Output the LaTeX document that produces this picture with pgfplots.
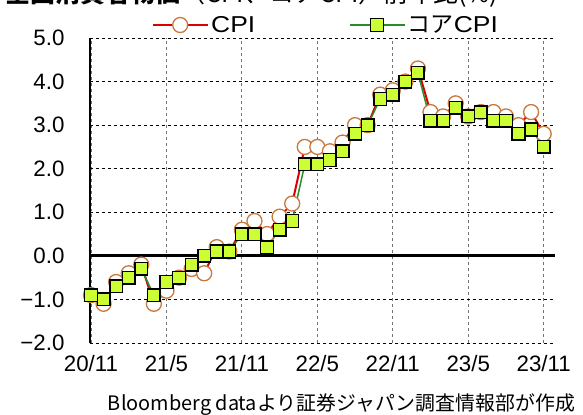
\documentclass[border=0pt]{standalone}
\usepackage{graphicx}
\usepackage{pgfplots}
\pgfplotsset{compat=1.18}
\usepackage{fontspec}
\setmainfont{Liberation Sans}
\newfontfamily\jp{Noto Sans CJK JP}
\newfontfamily\legf[FakeStretch=1.15]{Liberation Sans}
\definecolor{cpired}{RGB}{220,0,0}
\definecolor{cpicirc}{RGB}{200,120,60}
\definecolor{coregreen}{RGB}{40,140,40}
\definecolor{corefill}{RGB}{204,255,51}
\pgfplotstableread{
x cpi core
0 -0.9 -0.9
1 -1.1 -1.0
2 -0.6 -0.7
3 -0.4 -0.5
4 -0.2 -0.3
5 -1.1 -0.9
6 -0.8 -0.6
7 -0.5 -0.5
8 -0.3 -0.2
9 -0.4 0.0
10 0.2 0.1
11 0.1 0.1
12 0.6 0.5
13 0.8 0.5
14 0.5 0.2
15 0.9 0.6
16 1.2 0.8
17 2.5 2.1
18 2.5 2.1
19 2.4 2.2
20 2.6 2.4
21 3.0 2.8
22 3.0 3.0
23 3.7 3.6
24 3.8 3.7
25 4.0 4.0
26 4.3 4.2
27 3.3 3.1
28 3.2 3.1
29 3.5 3.4
30 3.2 3.2
31 3.3 3.3
32 3.3 3.1
33 3.2 3.1
34 3.0 2.8
35 3.3 2.9
36 2.8 2.5
}\datatable
\begin{document}
\begin{tikzpicture}
\begin{axis}[
  at={(90bp,72bp)}, anchor=south west,
  width=465bp, height=305bp, scale only axis,
  xmin=-0.08, xmax=36.9, ymin=-2, ymax=5,
  clip=false,
  xtick={0,6,...,36},
  xticklabels={20/11,21/5,21/11,22/5,22/11,23/5,23/11},
  ytick={-2,-1,0,1,2,3,4,5},
  yticklabels={−2.0,−1.0,0.0,1.0,2.0,3.0,4.0,5.0},
  tick style={draw=none},
  axis line style={draw=none},
  xmajorgrids, ymajorgrids,
  x grid style={black!55, dashed, line width=0.8bp},
  y grid style={black, dashed, line width=0.9bp},
  ticklabel style={font=\fontsize{22.3bp}{22.3bp}\selectfont},
  yticklabel style={xshift=-22bp},
  xticklabel style={yshift=-9bp},
  legend style={draw=none, fill=none, at={(0.1333,1.0426)}, anchor=west,
    font=\legf\fontsize{23bp}{23bp}\selectfont, inner sep=0pt,
    nodes={inner sep=2bp},
    /tikz/every even column/.append style={column sep=92bp}},
  legend columns=2,
  legend image code/.code={\draw[mark repeat=2,mark phase=2,#1] plot coordinates {(0bp,0bp)(27bp,0bp)(55bp,0bp)};},
]
\draw[black, line width=2.8bp] (axis cs:-0.08,0) -- (axis cs:36.9,0);
\draw[black, line width=2bp] (axis cs:-0.08,-2) -- (axis cs:-0.08,5);
\addplot[cpired, line width=2bp, mark=*, mark size=7.5bp,
  mark options={fill=white, draw=cpicirc, line width=1.3bp}] table[x=x, y=cpi] {\datatable};
\addlegendentry{CPI}
\addplot[coregreen, line width=1.5bp, mark=square*, mark size=6.3bp,
  mark options={fill=corefill, draw=black, line width=1.5bp}] table[x=x, y=core] {\datatable};
\addlegendentry{{\jp コア}CPI}
\end{axis}
\node[anchor=base west, inner sep=0pt] at (5bp,412bp)
  {{\jp\bfseries\fontsize{25bp}{25bp}\selectfont 全国消費者物価}{\jp\fontsize{25bp}{25bp}\selectfont（CPI、コアCPI）前年比(\%)}};
\node[inner sep=0pt] at (341.5bp,10bp)
  {\resizebox{467bp}{!}{\jp\fontsize{20bp}{20bp}\selectfont Bloomberg dataより証券ジャパン調査情報部が作成}};
\pgfresetboundingbox
\useasboundingbox (0,0) rectangle (583bp,415bp);
\end{tikzpicture}
\end{document}
